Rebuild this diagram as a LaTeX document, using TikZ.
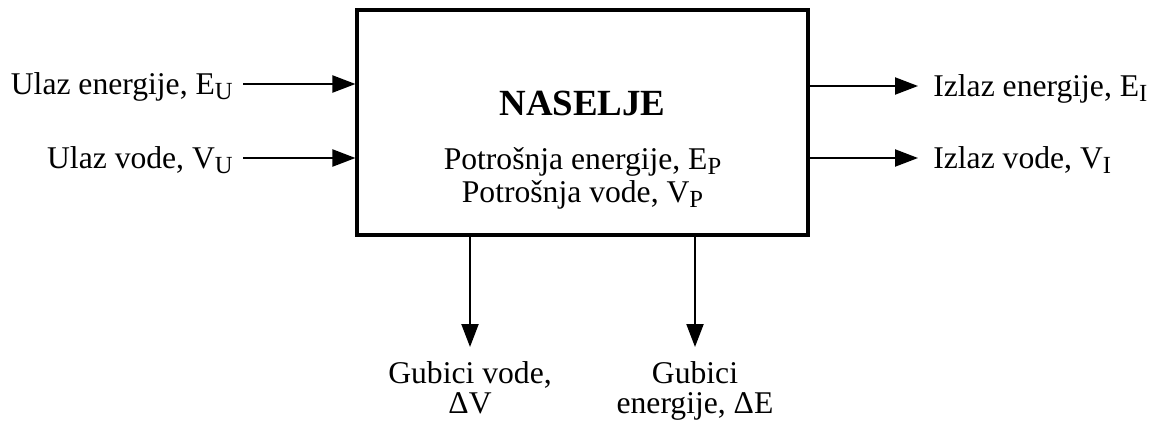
\documentclass[tikz,border=0pt]{standalone}
\usepackage{fontspec}
\setmainfont{Liberation Serif}
\usepackage{tikz}
\usetikzlibrary{arrows.meta}
\usetikzlibrary{positioning}

\newcommand{\ind}[1]{\raisebox{-2.8pt}{\fontsize{14}{14}\selectfont #1}}

\begin{document}
\begin{tikzpicture}[x=0.02cm, y=-0.02cm]
    \tikzstyle{oznaka}=[inner sep=0pt, text height=11.9pt, text depth=0pt, font=\fontsize{18}{17.3}\selectfont]
    \tikzstyle{blok}=[rectangle, draw, line width=1.8pt, minimum width=9.02cm, minimum height=4.5cm]
    \tikzstyle{fleche}=[-{Triangle[length=0.46cm, width=0.34cm]}, line width=1.2pt]

    \useasboundingbox (0,0) rectangle (1159,423);

    \node[blok] (naselje) at (582.5,122.5) {};
    \node[oznaka, text height=14pt, font=\fontsize{21}{21}\selectfont\bfseries] (naziv) at (582.5,103.5) {NASELJE};
    \node[oznaka] (potrosnja-energije) at (582.5,159.5) {Potrošnja energije, E\ind{P}};
    \node[oznaka] (potrosnja-vode) at (582.5,192.5) {Potrošnja vode, V\ind{P}};

    \node[oznaka, anchor=east] (ulaz-energije) at (233,84) {Ulaz energije, E\ind{U}};
    \node[oznaka, anchor=east] (ulaz-vode) at (233,158) {Ulaz vode, V\ind{U}};
    \draw[fleche, shorten <=0.2cm] (ulaz-energije.east) -- (ulaz-energije.east -| naselje.west);
    \draw[fleche, shorten <=0.2cm] (ulaz-vode.east) -- (ulaz-vode.east -| naselje.west);

    \node[oznaka, anchor=west] (izlaz-energije) at (933,86) {Izlaz energije, E\ind{I}};
    \node[oznaka, anchor=west] (izlaz-vode) at (933,158) {Izlaz vode, V\ind{I}};
    \draw[fleche, shorten >=0.3cm] (izlaz-energije.west -| naselje.east) -- (izlaz-energije.west);
    \draw[fleche, shorten >=0.3cm] (izlaz-vode.west -| naselje.east) -- (izlaz-vode.west);

    \node[oznaka, anchor=north, align=center, text height=] (gubici-vode) at (470,361) {Gubici vode,\\ΔV};
    \node[oznaka, anchor=north, align=center, text height=] (gubici-energije) at (695,361) {Gubici\\energije, ΔE};
    \draw[fleche, shorten >=0.28cm] (gubici-vode.north |- naselje.south) -- (gubici-vode.north);
    \draw[fleche, shorten >=0.28cm] (gubici-energije.north |- naselje.south) -- (gubici-energije.north);
\end{tikzpicture}
\end{document}
